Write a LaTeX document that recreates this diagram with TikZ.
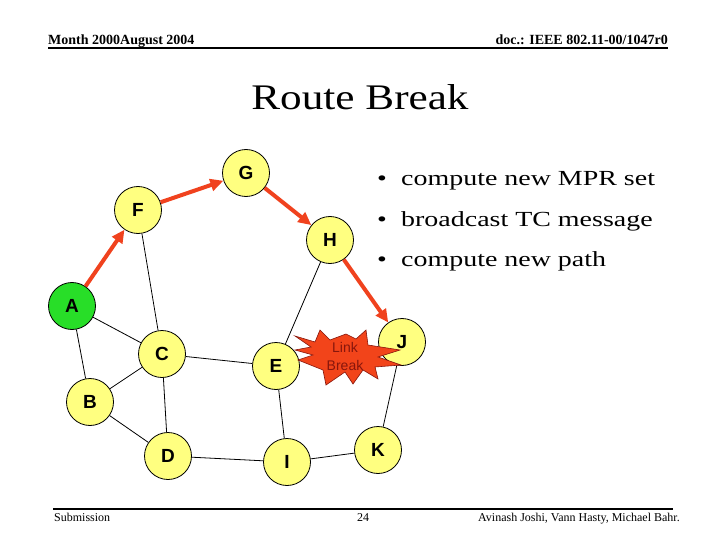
\documentclass[tikz,border=0pt]{standalone}
\usepackage{fontspec}
\setmainfont{Liberation Serif}
\setsansfont{Liberation Sans}
\newfontfamily\titlefont[FakeStretch=1.2]{Liberation Serif}
\newfontfamily\bulletfont[FakeStretch=1.3]{Liberation Serif}
\usetikzlibrary{arrows.meta}
\definecolor{nodeyellow}{RGB}{255,255,128}
\definecolor{nodegreen}{RGB}{40,222,40}
\definecolor{routered}{RGB}{240,66,30}
\definecolor{breakred}{RGB}{242,68,26}
\definecolor{breakdark}{RGB}{135,22,12}

\begin{document}
\begin{tikzpicture}[x=1pt,y=-1pt,
	station/.style={circle,draw,line width=0.8pt,fill=nodeyellow,minimum size=47pt,inner sep=0pt,
		font=\sffamily\bfseries\fontsize{19}{19}\selectfont},
	plain/.style={inner sep=0pt},
	route/.style={line width=4pt,color=routered,-{Triangle[length=13pt,width=12pt]}},
	link/.style={line width=0.8pt}]
\useasboundingbox (0,0) rectangle (720,540);

%header and footer
\node[plain,anchor=base west,font=\bfseries\fontsize{14}{14}\selectfont] (month) at (48,45) {Month 2000August 2004};
\node[plain,anchor=base east,font=\bfseries\fontsize{14}{14}\selectfont] (doc) at (668,45) {doc.: IEEE 802.11-00/1047r0};
\coordinate (hl) at (48,48);
\coordinate (hr) at (668,48);
\draw[line width=1.6pt] (hl) -- (hr);
\coordinate (fl) at (53,509);
\coordinate (fr) at (673,509);
\draw[line width=1.6pt] (fl) -- (fr);
\node[plain,anchor=base west,font=\fontsize{12}{12}\selectfont] (sub) at (54,521) {Submission};
\node[plain,anchor=base,font=\fontsize{12}{12}\selectfont] (page) at (363,521) {24};
\node[plain,anchor=base east,font=\fontsize{12}{12}\selectfont] (authors) at (680,521) {Avinash Joshi, Vann Hasty, Michael Bahr.};

%title
\node[plain,font=\titlefont\fontsize{36}{40}\selectfont] (title) at (360,97) {Route Break};

%bullets
\foreach \y/\txt [count=\i] in {186/compute new MPR set,226/broadcast TC message,266/compute new path}{
	\node[plain,anchor=base,font=\bulletfont\fontsize{21.5}{24}\selectfont] (dot\i) at (382,\y) {\textbullet};
	\node[plain,anchor=base west,font=\bulletfont\fontsize{21.5}{24}\selectfont] (item\i) at (401,\y) {\txt};
}

%stations
\foreach \name/\x/\y in {B/90/402,C/162/354,D/168/456,E/276/366,F/138/210,
	G/246/173,H/330/240,I/287/462,J/402/342,K/378/450}
	\node[station] (\name) at (\x,\y) {\name};
\node[station,fill=nodegreen] (A) at (72,306) {A};

%links
\foreach \u/\v in {F/C,A/C,A/B,B/C,B/D,C/E,C/D,H/E,E/I,D/I,I/K,K/J}
	\draw[link] (\u) -- (\v);

%route
\foreach \u/\v in {A/F,F/G,G/H,H/J}
	\draw[route] (\u) -- (\v);

%link break
\filldraw[fill=breakred,draw=breakdark,line width=0.6pt]
	(295,336) -- (315,342) -- (320,330) -- (330,340) -- (346,334) -- (356,339)
	-- (366,330) -- (368,345) -- (400,350) -- (378,357) -- (401,365) -- (375,367)
	-- (378,379) -- (363,370) -- (353,384) -- (345,372) -- (326,385) -- (323,370)
	-- (298,360) -- (313,355) -- (295,350) -- (311,347) -- cycle;
\node[plain,align=center,text=breakdark,font=\sffamily\fontsize{14}{18}\selectfont] (brk) at (345,356) {Link\\Break};
\end{tikzpicture}
\end{document}
